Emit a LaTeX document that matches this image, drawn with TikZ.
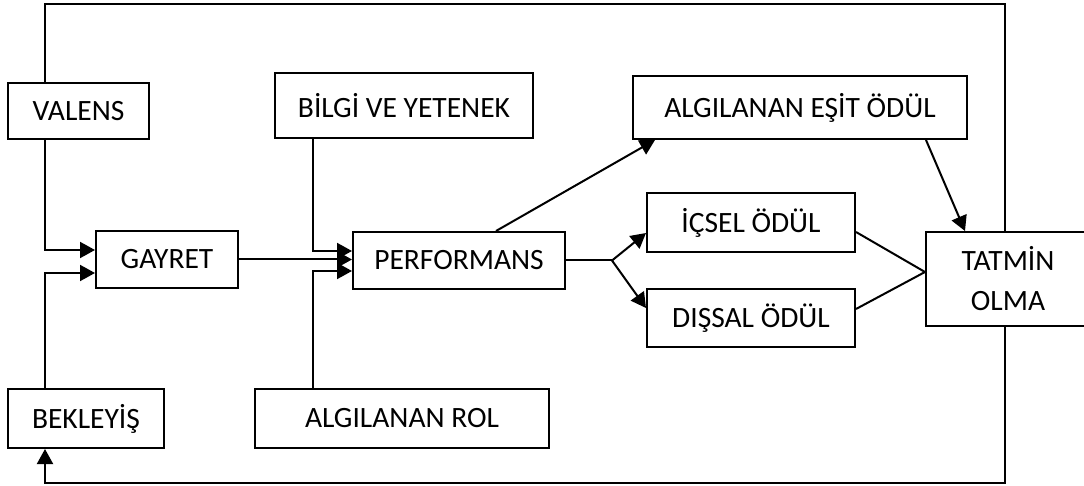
\documentclass[tikz,border=0pt]{standalone}
\usepackage{fontspec}
\setmainfont{Carlito}
\usetikzlibrary{arrows.meta}
\begin{document}
\begin{tikzpicture}[x=1pt,y=-1pt,line width=2pt,
  box/.style={draw,line width=2pt,inner sep=0pt,align=center,
    font=\fontsize{29.5}{40}\selectfont},
  arr/.style={-{Triangle[length=15pt,width=16pt]}}]
\useasboundingbox (0,0) rectangle (1084,486);

% boxes
\node[box,minimum width=141pt,minimum height=56pt] (valens)   at (78.5,111)  {VALENS};
\node[box,minimum width=258pt,minimum height=65pt] (bilgi)    at (404,105.5) {BİLGİ VE YETENEK};
\node[box,minimum width=334pt,minimum height=63pt] (esit)     at (800,107.5) {ALGILANAN EŞİT ÖDÜL};
\node[box,minimum width=142pt,minimum height=57pt] (gayret)   at (167,259.5) {GAYRET};
\node[box,minimum width=212pt,minimum height=57pt] (perf)     at (459,260.5) {PERFORMANS};
\node[box,minimum width=208pt,minimum height=59pt] (icsel)    at (751,222.5) {İÇSEL ÖDÜL};
\node[box,minimum width=208pt,minimum height=58pt] (dissal)   at (751,318)   {DIŞSAL ÖDÜL};
\node[box,minimum width=164pt,minimum height=94pt] (tatmin)   at (1008,279)  {TATMİN\\OLMA};
\node[box,minimum width=156pt,minimum height=59pt] (bekleyis) at (86,418.5)  {BEKLEYİŞ};
\node[box,minimum width=294pt,minimum height=59pt] (rol)      at (402,418.5) {ALGILANAN ROL};

% routing points of the feedback loops
\coordinate (tr) at (1005,4);
\coordinate (tl) at (45,4);
\coordinate (br) at (1005,483);
\coordinate (bl) at (45,483);
\coordinate (v)  at (313,0);
\coordinate (fork) at ([xshift=46pt]perf.east);

% feedback loops
\draw (tr |- tatmin.north) -- (tr) -- (tl) -- (tl |- valens.north);
\draw[arr] (br |- tatmin.south) -- (br) -- (bl) -- (bl |- bekleyis.south);

% inputs to GAYRET
\draw[arr] (tl |- valens.south) |- ([yshift=9.5pt]gayret.west);
\draw[arr] (tl |- bekleyis.north) |- ([yshift=-13.5pt]gayret.west);

% inputs to PERFORMANS
\draw[arr] (gayret.east) -- (gayret.east -| perf.west);
\draw[arr] (v |- bilgi.south) |- ([yshift=9.5pt]perf.west);
\draw[arr] (v |- rol.north) |- ([yshift=-10.5pt]perf.west);

% outputs of PERFORMANS
\draw[arr] ([xshift=37pt]perf.north) -- ([xshift=23pt]esit.south west);
\draw (perf.east) -- (fork);
\draw[arr] (fork) -- ([yshift=-10.5pt]icsel.west);
\draw[arr] (fork) -- ([yshift=10pt]dissal.west);

% rewards to TATMİN OLMA
\draw[arr] ([xshift=294pt]esit.south west) -- ([xshift=40pt]tatmin.north west);
\draw ([yshift=-9.5pt]icsel.east) -- ([yshift=7pt]tatmin.west);
\draw ([yshift=9pt]dissal.east) -- ([yshift=7pt]tatmin.west);
\end{tikzpicture}
\end{document}
